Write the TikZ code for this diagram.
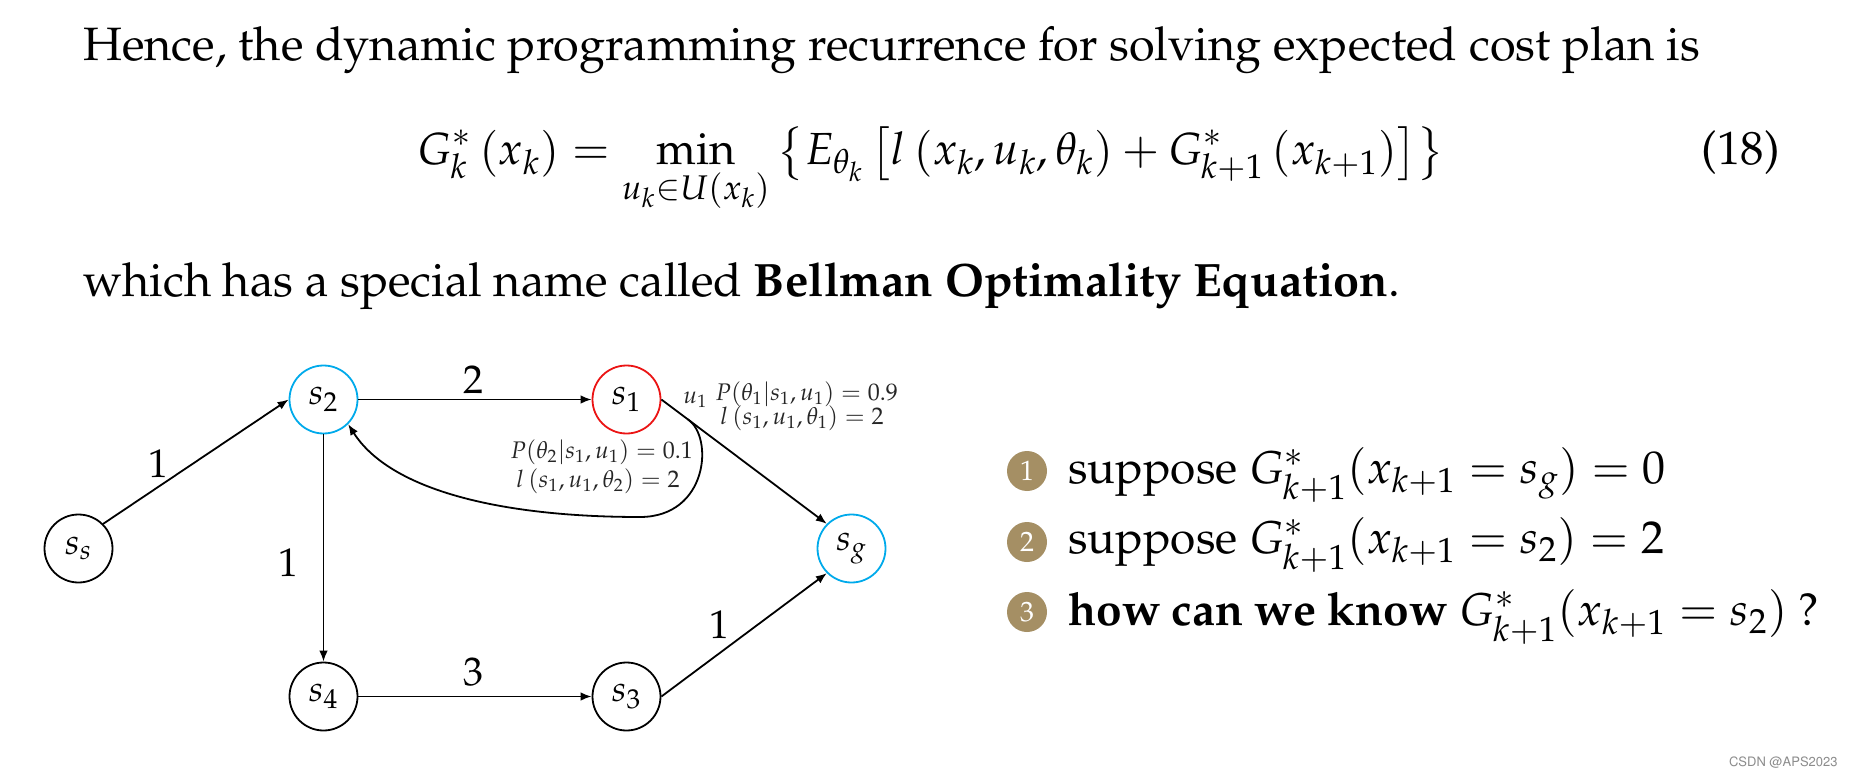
\documentclass[tikz,border=0pt]{standalone}
\usepackage[T1]{fontenc}
\usepackage{mathpazo}
\usepackage{amsmath}
\usetikzlibrary{arrows.meta,calc}
\definecolor{cyanc}{RGB}{0,170,235}
\definecolor{redc}{RGB}{235,20,20}
\definecolor{ballc}{RGB}{165,143,100}
\begin{document}
\begin{tikzpicture}[x=0.5pt,y=-0.5pt,
  st/.style={circle,draw,line width=0.9pt,minimum size=34pt,inner sep=0pt,font=\fontsize{18}{20}\selectfont},
  edge/.style={line width=0.9pt,-{Latex[length=5.5pt,width=4.3pt]}},
  lbl/.style={font=\fontsize{20}{24}\selectfont,inner sep=0pt},
  sm/.style={font=\fontsize{12}{14}\selectfont,inner sep=0pt,text=black!85},
  body/.style={font=\fontsize{23.4}{28}\selectfont,inner sep=0pt},
  lst/.style={font=\fontsize{23}{28}\selectfont,inner sep=0pt},
  ball/.style={circle,fill=ballc,text=white,minimum size=20pt,inner sep=0pt,font=\fontsize{14}{16}\selectfont}]
\useasboundingbox (0,0) rectangle (1852,775);
\fill[white] (0,0) rectangle (1852,775);

% text
\node[body,anchor=base west] (t1) at (83,61) {Hence, the dynamic programming recurrence for solving expected cost plan is};
\node[font=\fontsize{22.5}{28}\selectfont,inner sep=0pt,anchor=base] (eq) at (931,165) {$\displaystyle G^*_k\left(x_k\right) = \min_{u_k\in U(x_k)} \left\{E_{\theta_k}\left[l\left(x_k,u_k,\theta_k\right)+G^*_{k+1}\left(x_{k+1}\right)\right]\right\}$};
\node[body,anchor=base east] (eqn) at (1780,165) {(18)};
\node[body,anchor=base west] (t3) at (83,296) {which has a special name called \textbf{Bellman Optimality Equation}.};

% right list
\node[ball] (b1) at (1027,471) {1};
\node[ball] (b2) at (1027,542) {2};
\node[ball] (b3) at (1027,612) {3};
\node[lst,anchor=base west] (r1) at (1068,483) {suppose $G^*_{k+1}(x_{k+1}=s_g)=0$};
\node[lst,anchor=base west] (r2) at (1068,553) {suppose $G^*_{k+1}(x_{k+1}=s_2)=2$};
\node[lst,anchor=base west] (r3) at (1068,625) {\textbf{how can we know} $G^*_{k+1}(x_{k+1}=s_2)$ ?};

% graph nodes
\node[st] (ss) at (78.5,548.5) {$s_s$};
\node[st,draw=cyanc] (s2) at (323.5,399.5) {$s_2$};
\node[st,draw=redc] (s1) at (626.5,399.5) {$s_1$};
\node[st,draw=cyanc] (sg) at (851.5,548.5) {$s_g$};
\node[st] (s4) at (323.5,696.5) {$s_4$};
\node[st] (s3) at (626.5,696.5) {$s_3$};

% edges
\draw[edge] (ss.45) -- (s2.west);
\draw[edge] (s2.east) -- (s1.west);
\draw[edge] (s2.south) -- (s4.north);
\draw[edge] (s4.east) -- (s3.west);
\draw[edge] (s3.east) -- (sg.225);
\draw[edge] (s1.east) -- (sg.135);
\coordinate (br) at ($(s1.east)!0.16!(sg.135)$);
\draw[edge] (br) .. controls (714,437) and (708,517) .. (640,517) .. controls (500,517) and (390,490) .. (s2.315);

% edge labels
\node[lbl] (la) at (158,464) {1};
\node[lbl] (lb) at (473,380) {2};
\node[lbl] (lc) at (288,563) {1};
\node[lbl] (ld) at (473,672) {3};
\node[lbl] (le) at (719,625) {1};

% small labels
\node[sm,anchor=base west] (u1) at (683,403) {$u_1$};
\node[sm,anchor=base west] (p1) at (715,400) {$P(\theta_1|s_1,u_1)=0.9$};
\node[sm,anchor=base west] (q1) at (720,424) {$l\left(s_1,u_1,\theta_1\right)=2$};
\node[sm,anchor=base west] (p2) at (510,458) {$P(\theta_2|s_1,u_1)=0.1$};
\node[sm,anchor=base west] (q2) at (516,487) {$l\left(s_1,u_1,\theta_2\right)=2$};

% watermark
\node[font=\fontfamily{phv}\fontsize{6.5}{8}\selectfont,text=black!45,anchor=east,inner sep=0pt] (wm) at (1838,762) {CSDN @APS2023};
\end{tikzpicture}
\end{document}
